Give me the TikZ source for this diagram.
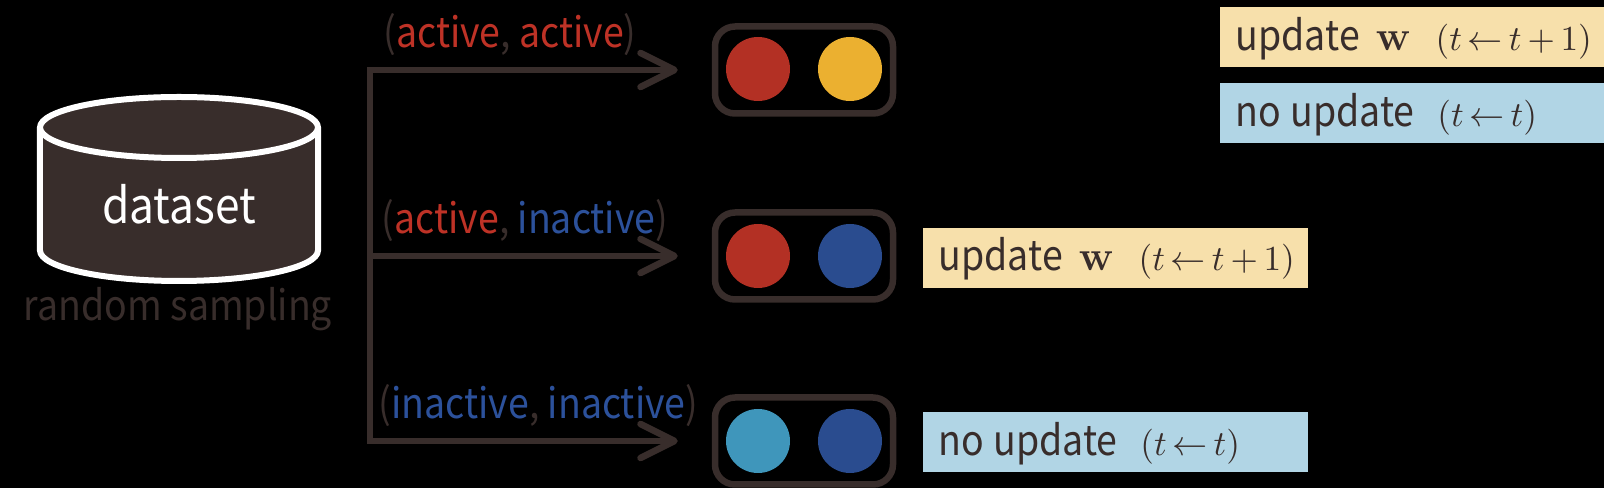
\documentclass[tikz,border=0pt]{standalone}
\usepackage[no-math]{fontspec}
\setmainfont[FakeStretch=0.9]{Noto Sans CJK JP}
\usetikzlibrary{arrows.meta}
\definecolor{inkbrown}{HTML}{382D2B}
\definecolor{pairred}{HTML}{B33024}
\definecolor{pairyellow}{HTML}{EBB030}
\definecolor{pairblue}{HTML}{2A4C8F}
\definecolor{paircyan}{HTML}{3F96BB}
\definecolor{txtred}{HTML}{BE3226}
\definecolor{txtblue}{HTML}{2C519B}
\definecolor{updfill}{HTML}{F7E0AB}
\definecolor{noupdfill}{HTML}{B1D5E5}
\newcommand{\lbl}{\fontsize{11.85}{12}\selectfont}
\newcommand{\mth}{\fontsize{10.4}{12}\selectfont}
\newcommand{\updtxt}{\mbox{\lbl update\hspace{0.16cm}{\fontsize{13.2}{12}\selectfont$\mathbf{w}$}\hspace{0.25cm}{\mth$(t\,{\leftarrow}\,t\,{+}\,1)$}}}
\newcommand{\noupdtxt}{\mbox{\lbl no\hspace{0.09cm}update\hspace{0.23cm}{\mth$(t\,{\leftarrow}\,t)$}}}
\tikzset{
  pairbox/.style={draw=inkbrown,line width=0.065cm,rounded corners=0.2cm,minimum width=1.78cm,minimum height=0.87cm,inner sep=0pt},
  dot/.style={circle,minimum size=0.64cm,inner sep=0pt},
  conn/.style={draw=inkbrown,line width=0.065cm},
  arrowconn/.style={conn,-{Straight Barb[length=0.34cm,width=0.34cm,round]},shorten >=0.34cm},
  statusbox/.style={anchor=north west,text=inkbrown,minimum height=0.60cm,text width=3.53cm,inner xsep=0.16cm,inner ysep=0pt,text height=0.32cm,text depth=0.055cm,align=left},
  pairlabel/.style={anchor=base,inner sep=0pt,text=inkbrown}
}
\begin{document}
\begin{tikzpicture}
\fill[black] (0,0) rectangle (16.04,4.88);
\useasboundingbox (0,0) rectangle (16.04,4.88);
% cylinder
\draw[line width=0.06cm,draw=white,fill=inkbrown] (0.40,3.605) -- (0.40,2.375) arc[start angle=180,end angle=360,x radius=1.39,y radius=0.305] -- (3.18,3.605) arc[start angle=0,end angle=180,x radius=1.39,y radius=0.305] arc[start angle=180,end angle=360,x radius=1.39,y radius=0.305];
\node[text=white,inner sep=0pt] (data) at (1.79,2.84) {\fontsize{14}{14}\selectfont dataset};
\node[text=inkbrown,inner sep=0pt,anchor=base] (sampling) at (1.78,1.67) {\lbl random sampling};
% pairs
\node[pairbox] (pairA) at (8.04,4.18) {};
\node[pairbox] (pairB) at (8.04,2.32) {};
\node[pairbox] (pairC) at (8.04,0.47) {};
\node[dot,fill=pairred] (dotAl) at (7.58,4.19) {};
\node[dot,fill=pairyellow] (dotAr) at (8.50,4.19) {};
\node[dot,fill=pairred] (dotBl) at (7.58,2.32) {};
\node[dot,fill=pairblue] (dotBr) at (8.50,2.32) {};
\node[dot,fill=paircyan] (dotCl) at (7.58,0.47) {};
\node[dot,fill=pairblue] (dotCr) at (8.50,0.47) {};
% connectors
\coordinate (busA) at (3.70,4.18);
\coordinate (busB) at (3.70,2.32);
\coordinate (busC) at (3.70,0.47);
\draw[conn,line cap=rect] (busA) -- (busC);
\draw[arrowconn] (busA) -- (pairA);
\draw[arrowconn] (busB) -- (pairB);
\draw[arrowconn] (busC) -- (pairC);
% labels
\node[pairlabel] (lblA) at (5.10,4.40) {\lbl (\textcolor{txtred}{active}, \textcolor{txtred}{active})};
\node[pairlabel] (lblB) at (5.25,2.54) {\lbl (\textcolor{txtred}{active}, \textcolor{txtblue}{inactive})};
\node[pairlabel] (lblC) at (5.385,0.69) {\lbl (\textcolor{txtblue}{inactive}, \textcolor{txtblue}{inactive})};
% status boxes
\node[statusbox,fill=updfill] (updTop) at (12.19,4.815) {\updtxt};
\node[statusbox,fill=noupdfill] (noTop) at (12.19,4.055) {\noupdtxt};
\node[statusbox,fill=updfill] (updMid) at (9.22,2.61) {\updtxt};
\node[statusbox,fill=noupdfill] (noBot) at (9.22,0.765) {\noupdtxt};
\end{tikzpicture}
\end{document}
